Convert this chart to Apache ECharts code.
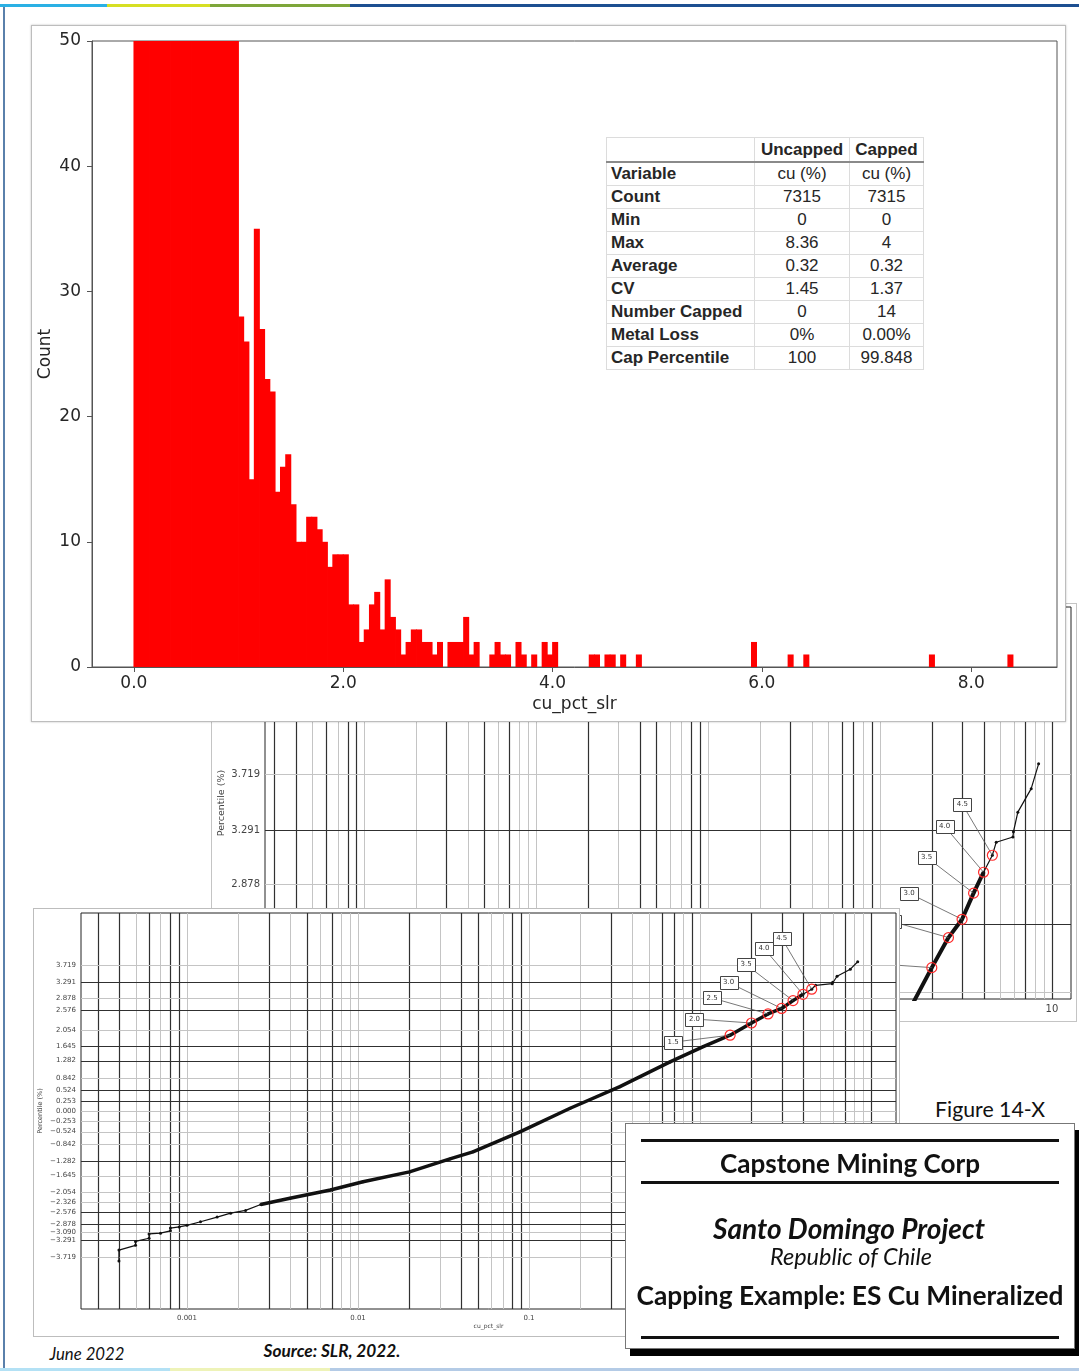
<!DOCTYPE html>
<html>
<head>
<meta charset="utf-8">
<script src="https://cdn.jsdelivr.net/npm/echarts@6/dist/echarts.min.js"></script>
<style>
  html, body { margin: 0; padding: 0; background: #fff; }
  body { width: 1079px; height: 1372px; position: relative; overflow: hidden; font-family: 'Liberation Sans', Arial, sans-serif; }
  .panel { position: absolute; background: #fff; box-sizing: border-box; }
  .chart { position: absolute; left: 0; top: 0; right: 0; bottom: 0; }
  .stripe { position: absolute; }
  .txt { position: absolute; white-space: nowrap; transform: translate(-50%, -50%); line-height: 1; color: #111; }
  .rule { position: absolute; left: 641px; width: 418px; height: 3px; background: #111; }
  #stats { position: absolute; left: 606px; top: 137px; z-index: 5; border-collapse: collapse; background: #fff;
           font-family: 'Liberation Sans', Arial, sans-serif; font-size: 17px; color: #262626; }
  #stats td, #stats th { border: 1px solid #dcdcdc; padding: 0 4px; height: 22px; line-height: 22px; }
  #stats th { font-weight: bold; text-align: center; border-bottom: 2px solid #8a8a8a; height: 23px; }
  #stats td { text-align: center; }
  #stats td.lab { text-align: left; font-weight: bold; }
</style>
</head>
<body>

<!-- page frame -->
<div class="stripe" style="left:0;top:4px;width:107px;height:3px;background:#2ab0e4"></div>
<div class="stripe" style="left:107px;top:4px;width:103px;height:3px;background:#d6df23"></div>
<div class="stripe" style="left:210px;top:4px;width:140px;height:3px;background:#7ea63a"></div>
<div class="stripe" style="left:350px;top:4px;width:729px;height:3px;background:#1d4f91"></div>
<div class="stripe" style="left:3px;top:7px;width:2px;height:1361px;background:#5a80ab"></div>
<div class="stripe" style="left:0;top:1368px;width:170px;height:3px;background:#b3e1f5"></div>
<div class="stripe" style="left:170px;top:1368px;width:160px;height:3px;background:#eef3b8"></div>
<div class="stripe" style="left:330px;top:1368px;width:749px;height:3px;background:#b4cbe6"></div>

<!-- back probability plot (zoomed upper tail) -->
<div class="panel" style="left:211px;top:603px;width:866px;height:419px;border:1px solid #c4c4c4;z-index:1">
  <div class="chart" id="probBack"></div>
</div>

<!-- histogram -->
<div class="panel" style="left:31px;top:25px;width:1035px;height:697px;border:1px solid #bdbdbd;box-shadow:0 0 2px rgba(0,0,0,0.25);z-index:2">
  <div class="chart" id="hist"></div>
</div>
<table id="stats"></table>

<!-- front probability plot -->
<div class="panel" style="left:33px;top:908px;width:867px;height:429px;border:1px solid #bdbdbd;z-index:3">
  <div class="chart" id="probFront"></div>
</div>

<!-- title block -->
<div class="txt" id="figNo" style="left:990px;top:1110px;font-family:Lato;font-size:20px">Figure 14-X</div>
<div class="panel" style="left:625px;top:1123px;width:450px;height:226px;border:1px solid #777;box-shadow:5px 7px 0 #000;z-index:4"></div>
<div style="position:absolute;left:0;top:0;z-index:5">
  <div class="rule" style="top:1139px"></div>
  <div class="rule" style="top:1181px"></div>
  <div class="rule" style="top:1336px"></div>
  <div class="txt" id="t1" style="left:850px;top:1163px;font-family:Lato;font-weight:bold;font-size:24px">Capstone Mining Corp</div>
  <div class="txt" id="t2" style="left:849px;top:1228px;font-family:Lato;font-weight:bold;font-style:italic;font-size:24px">Santo Domingo Project</div>
  <div class="txt" id="t3" style="left:851px;top:1257px;font-family:Lato;font-style:italic;font-size:20px">Republic of Chile</div>
  <div class="txt" id="t4" style="left:850px;top:1295px;font-family:Lato;font-weight:bold;font-size:24px">Capping Example: ES Cu Mineralized</div>
</div>
<div class="txt" id="f1" style="left:87px;top:1354px;font-family:Lato;font-style:italic;font-size:16px">June 2022</div>
<div class="txt" id="f2" style="left:332px;top:1351px;font-family:Lato;font-style:italic;font-weight:bold;font-size:16px">Source: SLR, 2022.</div>

<script>
// ---------------- data ----------------
// histogram of cu_pct_slr, 0.05 wide bins starting at 0 (first 20 bins run off the top)
const BIN_WIDTH = 0.05;
const binCounts = [
  755, 760, 720, 660, 590, 520, 460, 400, 350, 300, 260, 220, 190, 160, 135, 110, 92, 78, 65, 56,
  28, 26, 15, 35, 27, 23, 22, 14, 16, 17, 13, 10, 10, 12, 12, 11, 10, 8, 9, 9, 9,
  5, 5, 2, 3, 5, 6, 3, 7, 4, 3,
  1, 2, 3, 3, 2, 2, 1, 2, 0, 2,
  2, 2, 4, 1, 2, 0, 0, 1, 2, 1,
  1, 0, 2, 1, 0, 1, 0, 2, 1, 2,
  0, 0, 0, 0, 0, 0, 1, 1, 0, 1,
  1, 0, 1, 0, 0, 1, 0, 0, 0, 0,
  0, 0, 0, 0, 0, 0, 0, 0, 0, 0,
  0, 0, 0, 0, 0, 0, 0, 2, 0, 0,
  0, 0, 0, 0, 1, 0, 0, 1, 0, 0,
  0, 0, 0, 0, 0, 0, 0, 0, 0, 0,
  0, 0, 0, 0, 0, 0, 0, 0, 0, 0,
  0, 1, 0, 0, 0, 0, 0, 0, 0, 0,
  0, 0, 0, 0, 0, 0, 1
];
const histXTicks = [0, 2, 4, 6, 8];

const statLabels = ['Variable', 'Count', 'Min', 'Max', 'Average', 'CV', 'Number Capped', 'Metal Loss', 'Cap Percentile'];
const statUncapped = ['cu (%)', '7315', '0', '8.36', '0.32', '1.45', '0', '0%', '100'];
const statCapped = ['cu (%)', '7315', '0', '4', '0.32', '1.37', '14', '0.00%', '99.848'];

// probability plot: grade (log) vs normal score
const curveGrade = [0.0004, 0.0004, 0.0005, 0.0005, 0.0006, 0.0006, 0.0007, 0.0008, 0.0008, 0.0009,
  0.001, 0.0012, 0.0015, 0.0018, 0.0022, 0.0027, 0.004, 0.0069, 0.0107, 0.020,
  0.0345, 0.047, 0.0885, 0.174, 0.34, 0.668, 1.045, 1.5, 2.0, 2.5,
  3.0, 3.5, 4.0, 4.5, 4.74, 5.93, 5.97, 6.33, 7.57, 8.36];
const curveZ = [-3.82, -3.54, -3.42, -3.32, -3.24, -3.13, -3.11, -3.05, -2.98, -2.95,
  -2.91, -2.82, -2.70, -2.60, -2.53, -2.38, -2.22, -2.01, -1.80, -1.55,
  -1.22, -1.04, -0.53, 0.07, 0.62, 1.25, 1.64, 1.93, 2.24, 2.47,
  2.61, 2.81, 2.97, 3.10, 3.20, 3.24, 3.28, 3.43, 3.61, 3.80];
const capGrades = [1.5, 2.0, 2.5, 3.0, 3.5, 4.0, 4.5];
const capZ = [1.93, 2.24, 2.47, 2.61, 2.81, 2.97, 3.10];

const zTicks = [3.719, 3.291, 2.878, 2.576, 2.054, 1.645, 1.282, 0.842, 0.524, 0.253, 0,
  -0.253, -0.524, -0.842, -1.282, -1.645, -2.054, -2.326, -2.576, -2.878, -3.090, -3.291, -3.719];
const zTicksDark = [3.291, 2.576, 1.645, 1.282, 0.524, 0.253, -1.282, -2.576, -2.878, -3.291];
const gradeGridDark = [0.0003, 0.0004, 0.0006, 0.0008, 0.0009, 0.003, 0.005, 0.007, 0.02, 0.04,
  0.05, 0.08, 0.09, 0.3, 0.6, 0.7, 0.9, 2, 3, 4, 7, 10];

// ---------------- stats table ----------------
const table = document.getElementById('stats');
const colW = [139, 86, 65];
let html = '<tr><th style="width:' + colW[0] + 'px"></th><th style="width:' + colW[1] + 'px">Uncapped</th><th style="width:' + colW[2] + 'px">Capped</th></tr>';
statLabels.forEach((lab, i) => {
  html += '<tr><td class="lab">' + lab + '</td><td>' + statUncapped[i] + '</td><td>' + statCapped[i] + '</td></tr>';
});
table.innerHTML = html;

// ---------------- histogram ----------------
const FONT = 'DejaVu Sans';
const histData = binCounts.map((c, i) => [i * BIN_WIDTH, (i + 1) * BIN_WIDTH, c]);

const hist = echarts.init(document.getElementById('hist'));
hist.setOption({
  animation: false,
  grid: { left: 60, top: 15, width: 965, height: 626, containLabel: false, outerBoundsMode: 'none',
    show: true, borderColor: '#555', borderWidth: 1, backgroundColor: '#fff' },
  xAxis: {
    type: 'value', min: -0.4, max: 8.82,
    name: 'cu_pct_slr', nameLocation: 'middle', nameGap: 29, nameMoveOverlap: false,
    nameTextStyle: { fontFamily: FONT, fontSize: 17, color: '#262626' },
    axisLine: { show: true, onZero: false, lineStyle: { color: '#555' } },
    axisTick: { show: true, length: 5, lineStyle: { color: '#555' }, customValues: histXTicks },
    axisLabel: { customValues: histXTicks, formatter: (v) => v.toFixed(1), fontFamily: FONT, fontSize: 17, color: '#262626', margin: 8 },
    splitLine: { show: false },
  },
  yAxis: {
    type: 'value', min: 0, max: 50, interval: 10,
    name: 'Count', nameLocation: 'middle', nameGap: 38, nameMoveOverlap: false,
    nameTextStyle: { fontFamily: FONT, fontSize: 17, color: '#262626' },
    axisLine: { show: true, onZero: false, lineStyle: { color: '#555' } },
    axisTick: { show: true, length: 5, lineStyle: { color: '#555' } },
    axisLabel: { fontFamily: FONT, fontSize: 17, color: '#262626', margin: 11 },
    splitLine: { show: false },
  },
  series: [{
    type: 'custom',
    encode: { x: [0, 1], y: 2 },
    data: histData,
    renderItem: (params, api) => {
      const top = api.coord([api.value(0), api.value(2)]);
      const base = api.coord([api.value(1), 0]);
      const cs = params.coordSys;
      const shape = echarts.graphic.clipRectByRect(
        { x: top[0], y: top[1], width: base[0] - top[0], height: base[1] - top[1] },
        { x: cs.x, y: cs.y, width: cs.width, height: cs.height });
      if (!shape || shape.height <= 0) return null;
      // widen by a hair so neighbouring bins join without seams
      shape.x -= 0.4;
      shape.width += 0.8;
      return { type: 'rect', shape, style: { fill: '#ff0000' } };
    },
  }],
});

// ---------------- probability plots ----------------
const gridGrades = [];
for (let k = -4; k <= 1; k++) {
  for (let m = 1; m <= 9; m++) gridGrades.push(Number((m * Math.pow(10, k)).toPrecision(3)));
}
const curvePts = curveGrade.map((g, i) => [g, curveZ[i]]);
const capPts = capGrades.map((g, i) => [g, capZ[i]]);
// label box offsets (px) from each capping circle
const CAP_DX = [-57, -57, -56, -53, -47, -39, -30];
const CAP_DY = [7, -4, -16, -26, -36, -46, -51];

const fmtZ = (v) => (v < 0 ? '\u2212' : '') + Math.abs(v).toFixed(3);

function gridSeries(data, vertical) {
  return {
    type: 'custom', silent: true, encode: { x: 0, y: 1 }, data,
    renderItem: (params, api) => {
      const p = api.coord([api.value(0), api.value(1)]);
      const cs = params.coordSys;
      const dark = api.value(2) === 1;
      const style = { stroke: dark ? '#303030' : '#c4c4c4', lineWidth: dark ? 1.2 : 1 };
      if (vertical) {
        const x = Math.round(p[0]) + 0.5;
        return { type: 'line', shape: { x1: x, y1: cs.y, x2: x, y2: cs.y + cs.height }, style };
      }
      const y = Math.round(p[1]) + 0.5;
      return { type: 'line', shape: { x1: cs.x, y1: y, x2: cs.x + cs.width, y2: y }, style };
    },
  };
}

function probOption(cfg) {
  const inY = (z) => z >= cfg.yMin && z <= cfg.yMax;
  const inX = (g) => g >= cfg.xMin && g <= cfg.xMax;
  const vLines = gridGrades.filter(inX).map((g) => [g, (cfg.yMin + cfg.yMax) / 2, gradeGridDark.includes(g) ? 1 : 0]);
  const hLines = zTicks.filter(inY).map((z) => [1, z, zTicksDark.includes(z) ? 1 : 0]);
  const body = curvePts.filter((p) => p[0] >= 0.0027 && p[0] <= 4.0);
  const labelStyle = { fontFamily: FONT, fontSize: cfg.fontSize, color: '#444' };
  return {
    animation: false,
    grid: Object.assign({ containLabel: false, outerBoundsMode: 'none', show: true,
      borderColor: '#222', borderWidth: 1, backgroundColor: '#fff' }, cfg.grid),
    xAxis: {
      type: 'log', logBase: 10, min: cfg.xMin, max: cfg.xMax,
      name: 'cu_pct_slr', nameLocation: 'middle', nameGap: cfg.xNameGap, nameMoveOverlap: false,
      nameTextStyle: { fontFamily: FONT, fontSize: cfg.fontSize - 1, color: '#444' },
      axisLine: { show: false }, axisTick: { show: false }, splitLine: { show: false },
      axisLabel: Object.assign({ showMinLabel: false, showMaxLabel: false, margin: cfg.labelMargin,
        formatter: (v) => String(Number(v.toPrecision(6))) }, labelStyle),
    },
    yAxis: {
      type: 'value', min: cfg.yMin, max: cfg.yMax,
      name: 'Percentile (%)', nameLocation: 'middle', nameGap: cfg.yNameGap, nameMoveOverlap: false,
      nameTextStyle: { fontFamily: FONT, fontSize: cfg.fontSize - 0.5, color: '#444' },
      axisLine: { show: false, onZero: false }, axisTick: { show: false }, splitLine: { show: false },
      axisLabel: Object.assign({ customValues: zTicks.filter(inY), formatter: fmtZ, margin: 5 }, labelStyle),
    },
    series: [
      gridSeries(vLines, true),
      gridSeries(hLines, false),
      { type: 'line', data: curvePts, symbol: 'circle', symbolSize: 3, showSymbol: true,
        itemStyle: { color: '#111' }, lineStyle: { color: '#111', width: 1.2 }, z: 3 },
      { type: 'line', data: body, symbol: 'none', lineStyle: { color: '#111', width: cfg.bodyWidth }, z: 3 },
      {
        type: 'custom', data: capPts, encode: { x: 0, y: 1 }, z: 4,
        renderItem: (params, api) => {
          const i = params.dataIndex;
          const p = api.coord([api.value(0), api.value(1)]);
          const cs = params.coordSys;
          if (p[1] > cs.y + cs.height || p[1] < cs.y) return null;
          const bx = p[0] + CAP_DX[i];
          const by = p[1] + CAP_DY[i];
          return {
            type: 'group',
            children: [
              { type: 'line', shape: { x1: bx, y1: by, x2: p[0], y2: p[1] }, style: { stroke: '#555', lineWidth: 0.8 } },
              { type: 'rect', shape: { x: Math.round(bx - 9) + 0.5, y: Math.round(by - 6.5) + 0.5, width: 18, height: 13 },
                style: { fill: '#fff', stroke: '#444', lineWidth: 1 } },
              { type: 'text', style: { x: bx, y: by, text: capGrades[i].toFixed(1), align: 'center', verticalAlign: 'middle',
                  font: '7px "DejaVu Sans"', fill: '#333' } },
              { type: 'circle', shape: { cx: p[0], cy: p[1], r: 5 }, style: { fill: 'none', stroke: '#ff2a2a', lineWidth: 1.2 } },
            ],
          };
        },
      },
    ],
  };
}

echarts.init(document.getElementById('probFront')).setOption(probOption({
  grid: { left: 47, top: 4, width: 815, height: 396 },
  xMin: 0.00024, xMax: 14, yMin: -5.04, yMax: 5.04,
  fontSize: 7, labelMargin: 6, xNameGap: 14, yNameGap: 37, bodyWidth: 3.5,
}));

echarts.init(document.getElementById('probBack')).setOption(probOption({
  grid: { left: 53, top: 3, width: 806, height: 392 },
  xMin: 0.000265, xMax: 12.9, yMin: 2, yMax: 5,
  fontSize: 10, labelMargin: 5, xNameGap: 18, yNameGap: 38, bodyWidth: 4,
}));

// ---------------- fit title text widths ----------------
function fitText(id, targetWidth) {
  const el = document.getElementById(id);
  const w = el.getBoundingClientRect().width;
  const fs = parseFloat(getComputedStyle(el).fontSize);
  el.style.fontSize = (fs * targetWidth / w).toFixed(2) + 'px';
}
fitText('t1', 260);
fitText('t2', 272);
fitText('t3', 162);
fitText('t4', 427);
fitText('figNo', 110);
fitText('f1', 75);
fitText('f2', 137);
</script>
</body>
</html>
